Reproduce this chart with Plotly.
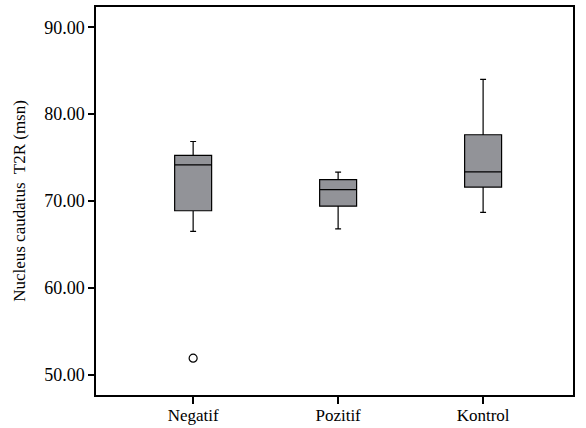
import plotly.graph_objects as go

categories = ["Negatif", "Pozitif", "Kontrol"]
lower_whisker = [66.5, 66.8, 68.7]
q1_vals = [68.88, 69.4, 71.6]
median_vals = [74.15, 71.3, 73.35]
q3_vals = [75.25, 72.45, 77.63]
upper_whisker = [76.85, 73.32, 84.0]
outlier_cats = ["Negatif"]
outlier_vals = [51.9]
y_ticks = [50, 60, 70, 80, 90]

font_family = "Liberation Serif, Times New Roman, serif"

fig = go.Figure()
fig.add_trace(go.Box(
    x=categories,
    q1=q1_vals, median=median_vals, q3=q3_vals,
    lowerfence=lower_whisker, upperfence=upper_whisker,
    fillcolor="#929398",
    line=dict(color="black", width=1.2),
    whiskerwidth=0.16,
    width=0.255,
    boxpoints=False,
    showlegend=False,
))
fig.add_trace(go.Scatter(
    x=outlier_cats, y=outlier_vals, mode="markers",
    marker=dict(symbol="circle-open", size=8, color="black", line=dict(width=1.2)),
    showlegend=False,
))

fig.update_layout(
    width=586, height=428,
    margin=dict(l=96, r=13, t=7, b=33, autoexpand=False),
    paper_bgcolor="white", plot_bgcolor="white",
    font=dict(family=font_family, size=18, color="black"),
    xaxis=dict(
        type="category", range=[-0.67, 2.62],
        showline=True, linecolor="black", linewidth=1.5, mirror=True,
        ticks="outside", ticklen=7, tickcolor="black", tickwidth=1.5,
        showgrid=False, zeroline=False,
        ticklabelstandoff=-3,
        tickfont=dict(family=font_family, size=17),
    ),
    yaxis=dict(
        range=[47.66, 92.34],
        tickvals=y_ticks, ticktext=[f"{v:.2f}" for v in y_ticks],
        showline=True, linecolor="black", linewidth=1.5, mirror=True,
        ticks="outside", ticklen=6, tickcolor="black", tickwidth=1.5,
        showgrid=False, zeroline=False,
        title=dict(text="Nucleus caudatus  T2R (msn)", font=dict(family=font_family, size=17), standoff=14),
        tickfont=dict(family=font_family, size=18),
    ),
)

fig.write_html("out.html", config={"displayModeBar": False},
               post_script="document.body.style.margin='0';")
